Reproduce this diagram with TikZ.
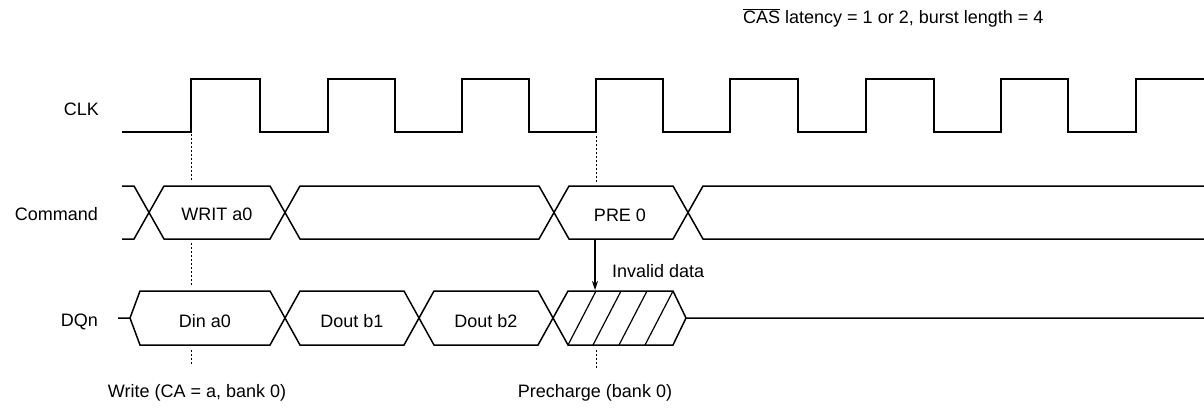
\documentclass[tikz,border=0pt]{standalone}
\usepackage{fontspec}
\setmainfont{Liberation Sans}
\usetikzlibrary{arrows.meta}
\begin{document}
\begin{tikzpicture}[x=1pt,y=-1pt,
  sig/.style={line width=1.5pt,line join=miter},
  hatch/.style={line width=1.2pt},
  guide/.style={line width=1pt,dash pattern=on 1.5pt off 2.5pt},
  lbl/.style={font=\fontsize{18}{20}\selectfont,inner sep=0pt},
  arr/.style={line width=1.3pt,-{Stealth[length=9pt,width=6pt]}}]
\useasboundingbox (0,0) rectangle (1204,410);
% title
\node[lbl,anchor=west] (title) at (743,18) {$\overline{\hbox{CAS}}$ latency = 1 or 2, burst length = 4};
% signal names
\node[lbl,anchor=east] (clk) at (99,109) {CLK};
\node[lbl,anchor=east] (cmd) at (98,214) {Command};
\node[lbl,anchor=east] (dq) at (98,322) {DQn};
% clock
\draw[sig] (122,132) -- (191,132) -- (191,79) -- (260,79) -- (260,132) -- (328,132) -- (328,79) -- (395,79) -- (395,132)
  -- (462,132) -- (462,79) -- (529,79) -- (529,132) -- (596,132) -- (596,79) -- (663,79) -- (663,132)
  -- (730,132) -- (730,79) -- (798,79) -- (798,132) -- (866,132) -- (866,79) -- (934,79) -- (934,132)
  -- (1001,132) -- (1001,79) -- (1068,79) -- (1068,132) -- (1136,132) -- (1136,79) -- (1204,79);
% command bus
\draw[sig] (122,186) -- (134,186) -- (164,239) -- (270,239) -- (300,186) -- (539,186) -- (569,239) -- (673,239) -- (703,186) -- (1204,186);
\draw[sig] (122,239) -- (134,239) -- (164,186) -- (270,186) -- (300,239) -- (539,239) -- (569,186) -- (673,186) -- (703,239) -- (1204,239);
\node[lbl] (writ) at (217,214) {WRIT a0};
\node[lbl] (pre) at (620,215) {PRE 0};
% DQ bus
\draw[sig] (118,318) -- (130,318) -- (140,291) -- (270,291) -- (300,345) -- (404,345) -- (434,291) -- (538,291) -- (568,345) -- (673,345) -- (686,318) -- (1204,318);
\draw[sig] (130,318) -- (140,345) -- (270,345) -- (300,291) -- (404,291) -- (434,345) -- (538,345) -- (568,291) -- (673,291) -- (686,318);
\draw[hatch] (568,345) -- (596,291) (593,345) -- (621,291) (619,345) -- (647,291) (645,345) -- (673,291);
\node[lbl] (din) at (205,321) {Din a0};
\node[lbl] (db1) at (352,321) {Dout b1};
\node[lbl] (db2) at (486,321) {Dout b2};
% arrow
\coordinate (arrS) at (595,240);
\coordinate (arrE) at (595,290);
\draw[arr] (arrS) -- (arrE);
\node[lbl,anchor=west] (inv) at (612,271) {Invalid data};
% guides
\draw[guide] (191,134) -- (191,180) (191,243) -- (191,286) (191,350) -- (191,365);
\draw[guide] (596,136) -- (596,182) (596,350) -- (596,368);
% bottom labels
\node[lbl] (wr) at (197,393) {Write (CA = a, bank 0)};
\node[lbl] (pc) at (595,393) {Precharge (bank 0)};
\end{tikzpicture}
\end{document}
